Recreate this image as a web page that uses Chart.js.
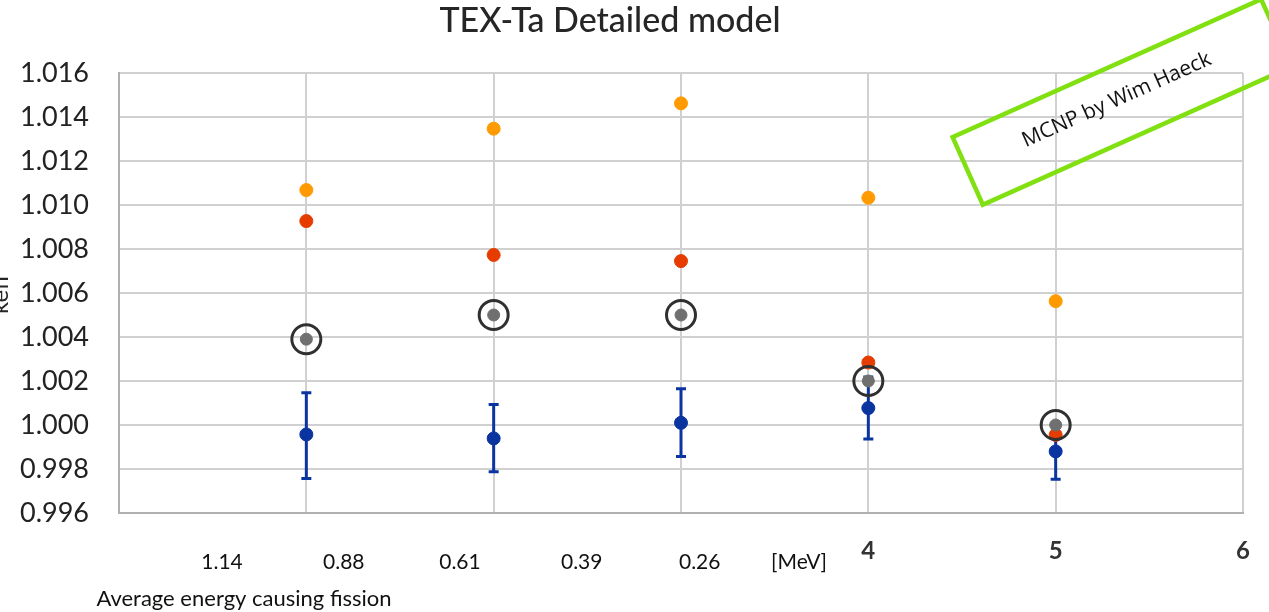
<!DOCTYPE html>
<html>
<head>
<meta charset="utf-8">
<script src="https://cdn.jsdelivr.net/npm/chart.js@4/dist/chart.umd.min.js"></script>
<style>
  html, body { margin: 0; padding: 0; background: #ffffff; }
  #wrap { width: 1269px; height: 612px; position: relative; }
</style>
</head>
<body>
<div id="wrap"><canvas id="c" width="1269" height="612"></canvas></div>
<script>
// ---- data ----
const chartTitle = 'TEX-Ta Detailed model';
const yAxisTitle = 'keff';
const xCases = [1, 2, 3, 4, 5];
const orangeVals = [1.01068, 1.01347, 1.01462, 1.01033, 1.00563];
const redVals    = [1.00927, 1.00773, 1.00745, 1.00284, 0.99955];
const greyVals   = [1.0039, 1.0050, 1.0050, 1.0020, 1.0000];
const blueVals   = [0.99957, 0.99939, 1.0001, 1.00077, 0.9988];
const blueErrPlus  = [0.0019, 0.00154, 0.00155, 0.00141, 0.00127];
const blueErrMinus = [0.0020, 0.00151, 0.00153, 0.00141, 0.00127];
const xTickLabels = ['', '', '', '', '4', '5', '6'];
const energyLabels = ['1.14', '0.88', '0.61', '0.39', '0.26', '[MeV]'];
const energyLabelAt = [0.55, 1.2, 1.82, 2.47, 3.1, 3.63];
const energyCaption = 'Average energy causing fission';
const stampText = 'MCNP by Wim Haeck';

const pts = (vals) => xCases.map((x, i) => ({ x: x, y: vals[i] }));

const FONT = 'Lato, "Open Sans", sans-serif';

const errorBars = {
  id: 'errorBars',
  beforeDatasetsDraw(chart) {
    const xs = chart.scales.x, ys = chart.scales.y, ctx = chart.ctx;
    ctx.save();
    ctx.strokeStyle = '#0a34a0';
    ctx.lineWidth = 3;
    xCases.forEach((x, i) => {
      const px = xs.getPixelForValue(x);
      const top = ys.getPixelForValue(blueVals[i] + blueErrPlus[i]);
      const bot = ys.getPixelForValue(blueVals[i] - blueErrMinus[i]);
      ctx.beginPath();
      ctx.moveTo(px, top); ctx.lineTo(px, bot);
      ctx.moveTo(px - 5, top); ctx.lineTo(px + 5, top);
      ctx.moveTo(px - 5, bot); ctx.lineTo(px + 5, bot);
      ctx.stroke();
    });
    ctx.restore();
  }
};

const decorations = {
  id: 'decorations',
  afterDraw(chart) {
    const ctx = chart.ctx, xs = chart.scales.x;
    ctx.save();
    // title
    ctx.fillStyle = '#262626';
    ctx.font = '500 34px ' + FONT;
    ctx.textAlign = 'center';
    ctx.textBaseline = 'middle';
    ctx.fillText(chartTitle, 610, 21);
    // y axis title (clipped at the left edge as in the reference)
    ctx.save();
    ctx.translate(8, 294);
    ctx.rotate(-Math.PI / 2);
    ctx.font = '24px ' + FONT;
    ctx.textBaseline = 'alphabetic';
    ctx.fillText(yAxisTitle, 0, 0);
    ctx.restore();
    // energy labels
    ctx.fillStyle = '#111';
    ctx.font = '21px ' + FONT;
    energyLabels.forEach((t, i) => {
      ctx.fillText(t, xs.getPixelForValue(energyLabelAt[i]), 562);
    });
    ctx.font = '22px ' + FONT;
    ctx.fillText(energyCaption, 244, 599);
    // green stamp box
    ctx.save();
    ctx.translate(1122, 102);
    ctx.rotate(-24.1 * Math.PI / 180);
    ctx.strokeStyle = '#80e010';
    ctx.lineWidth = 4.5;
    ctx.strokeRect(-169, -37, 338, 74);
    ctx.fillStyle = '#111';
    ctx.font = '21px "Open Sans", ' + FONT;
    ctx.fillText(stampText, -4, -4);
    ctx.restore();
    ctx.restore();
  }
};

new Chart(document.getElementById('c'), {
  type: 'scatter',
  data: {
    datasets: [
      { label: 'ring', data: pts(greyVals), pointRadius: 14.5, pointHoverRadius: 14.5,
        pointBackgroundColor: 'rgba(0,0,0,0)', pointBorderColor: '#303030', pointBorderWidth: 3 },
      { label: 'grey', data: pts(greyVals), pointRadius: 6, pointHoverRadius: 6,
        pointBackgroundColor: '#707070', pointBorderColor: '#707070', pointBorderWidth: 1 },
      { label: 'red', data: pts(redVals), pointRadius: 6.5, pointHoverRadius: 6.5,
        pointBackgroundColor: '#e63c00', pointBorderColor: '#e63c00', pointBorderWidth: 1 },
      { label: 'orange', data: pts(orangeVals), pointRadius: 6.5, pointHoverRadius: 6.5,
        pointBackgroundColor: '#ff9a00', pointBorderColor: '#ff9a00', pointBorderWidth: 1 },
      { label: 'blue', data: pts(blueVals), pointRadius: 6.5, pointHoverRadius: 6.5,
        pointBackgroundColor: '#0a34a0', pointBorderColor: '#0a34a0', pointBorderWidth: 1 }
    ]
  },
  options: {
    responsive: false,
    animation: false,
    events: [],
    layout: { padding: { top: 73, left: 0, right: 26, bottom: 0 } },
    plugins: { legend: { display: false }, title: { display: false }, tooltip: { enabled: false } },
    scales: {
      x: {
        type: 'linear', min: 0, max: 6,
        afterFit(s) { s.height = 99; s.paddingRight = 0; s.paddingLeft = 0; },
        ticks: { stepSize: 1, autoSkip: false, maxRotation: 0, padding: 24,
          color: '#333', font: { family: FONT, size: 24, weight: 'bold' },
          callback: (v) => xTickLabels[v] },
        grid: { color: '#d0d0d0', lineWidth: 2, drawTicks: false },
        border: { color: '#b0b0b0', width: 2 }
      },
      y: {
        min: 0.996, max: 1.016,
        afterFit(s) { s.width = 119; s.paddingTop = 0; s.paddingBottom = 0; },
        afterBuildTicks(s) {
          const t = [];
          for (let k = 0; k <= 10; k++) t.push({ value: +(0.996 + k * 0.002).toFixed(3) });
          s.ticks = t;
        },
        ticks: { padding: 30, color: '#222', font: { family: FONT, size: 27 },
          callback: (v) => v.toFixed(3) },
        grid: { color: '#d0d0d0', lineWidth: 2, drawTicks: false },
        border: { color: '#b0b0b0', width: 2 }
      }
    }
  },
  plugins: [errorBars, decorations]
});
</script>
</body>
</html>
